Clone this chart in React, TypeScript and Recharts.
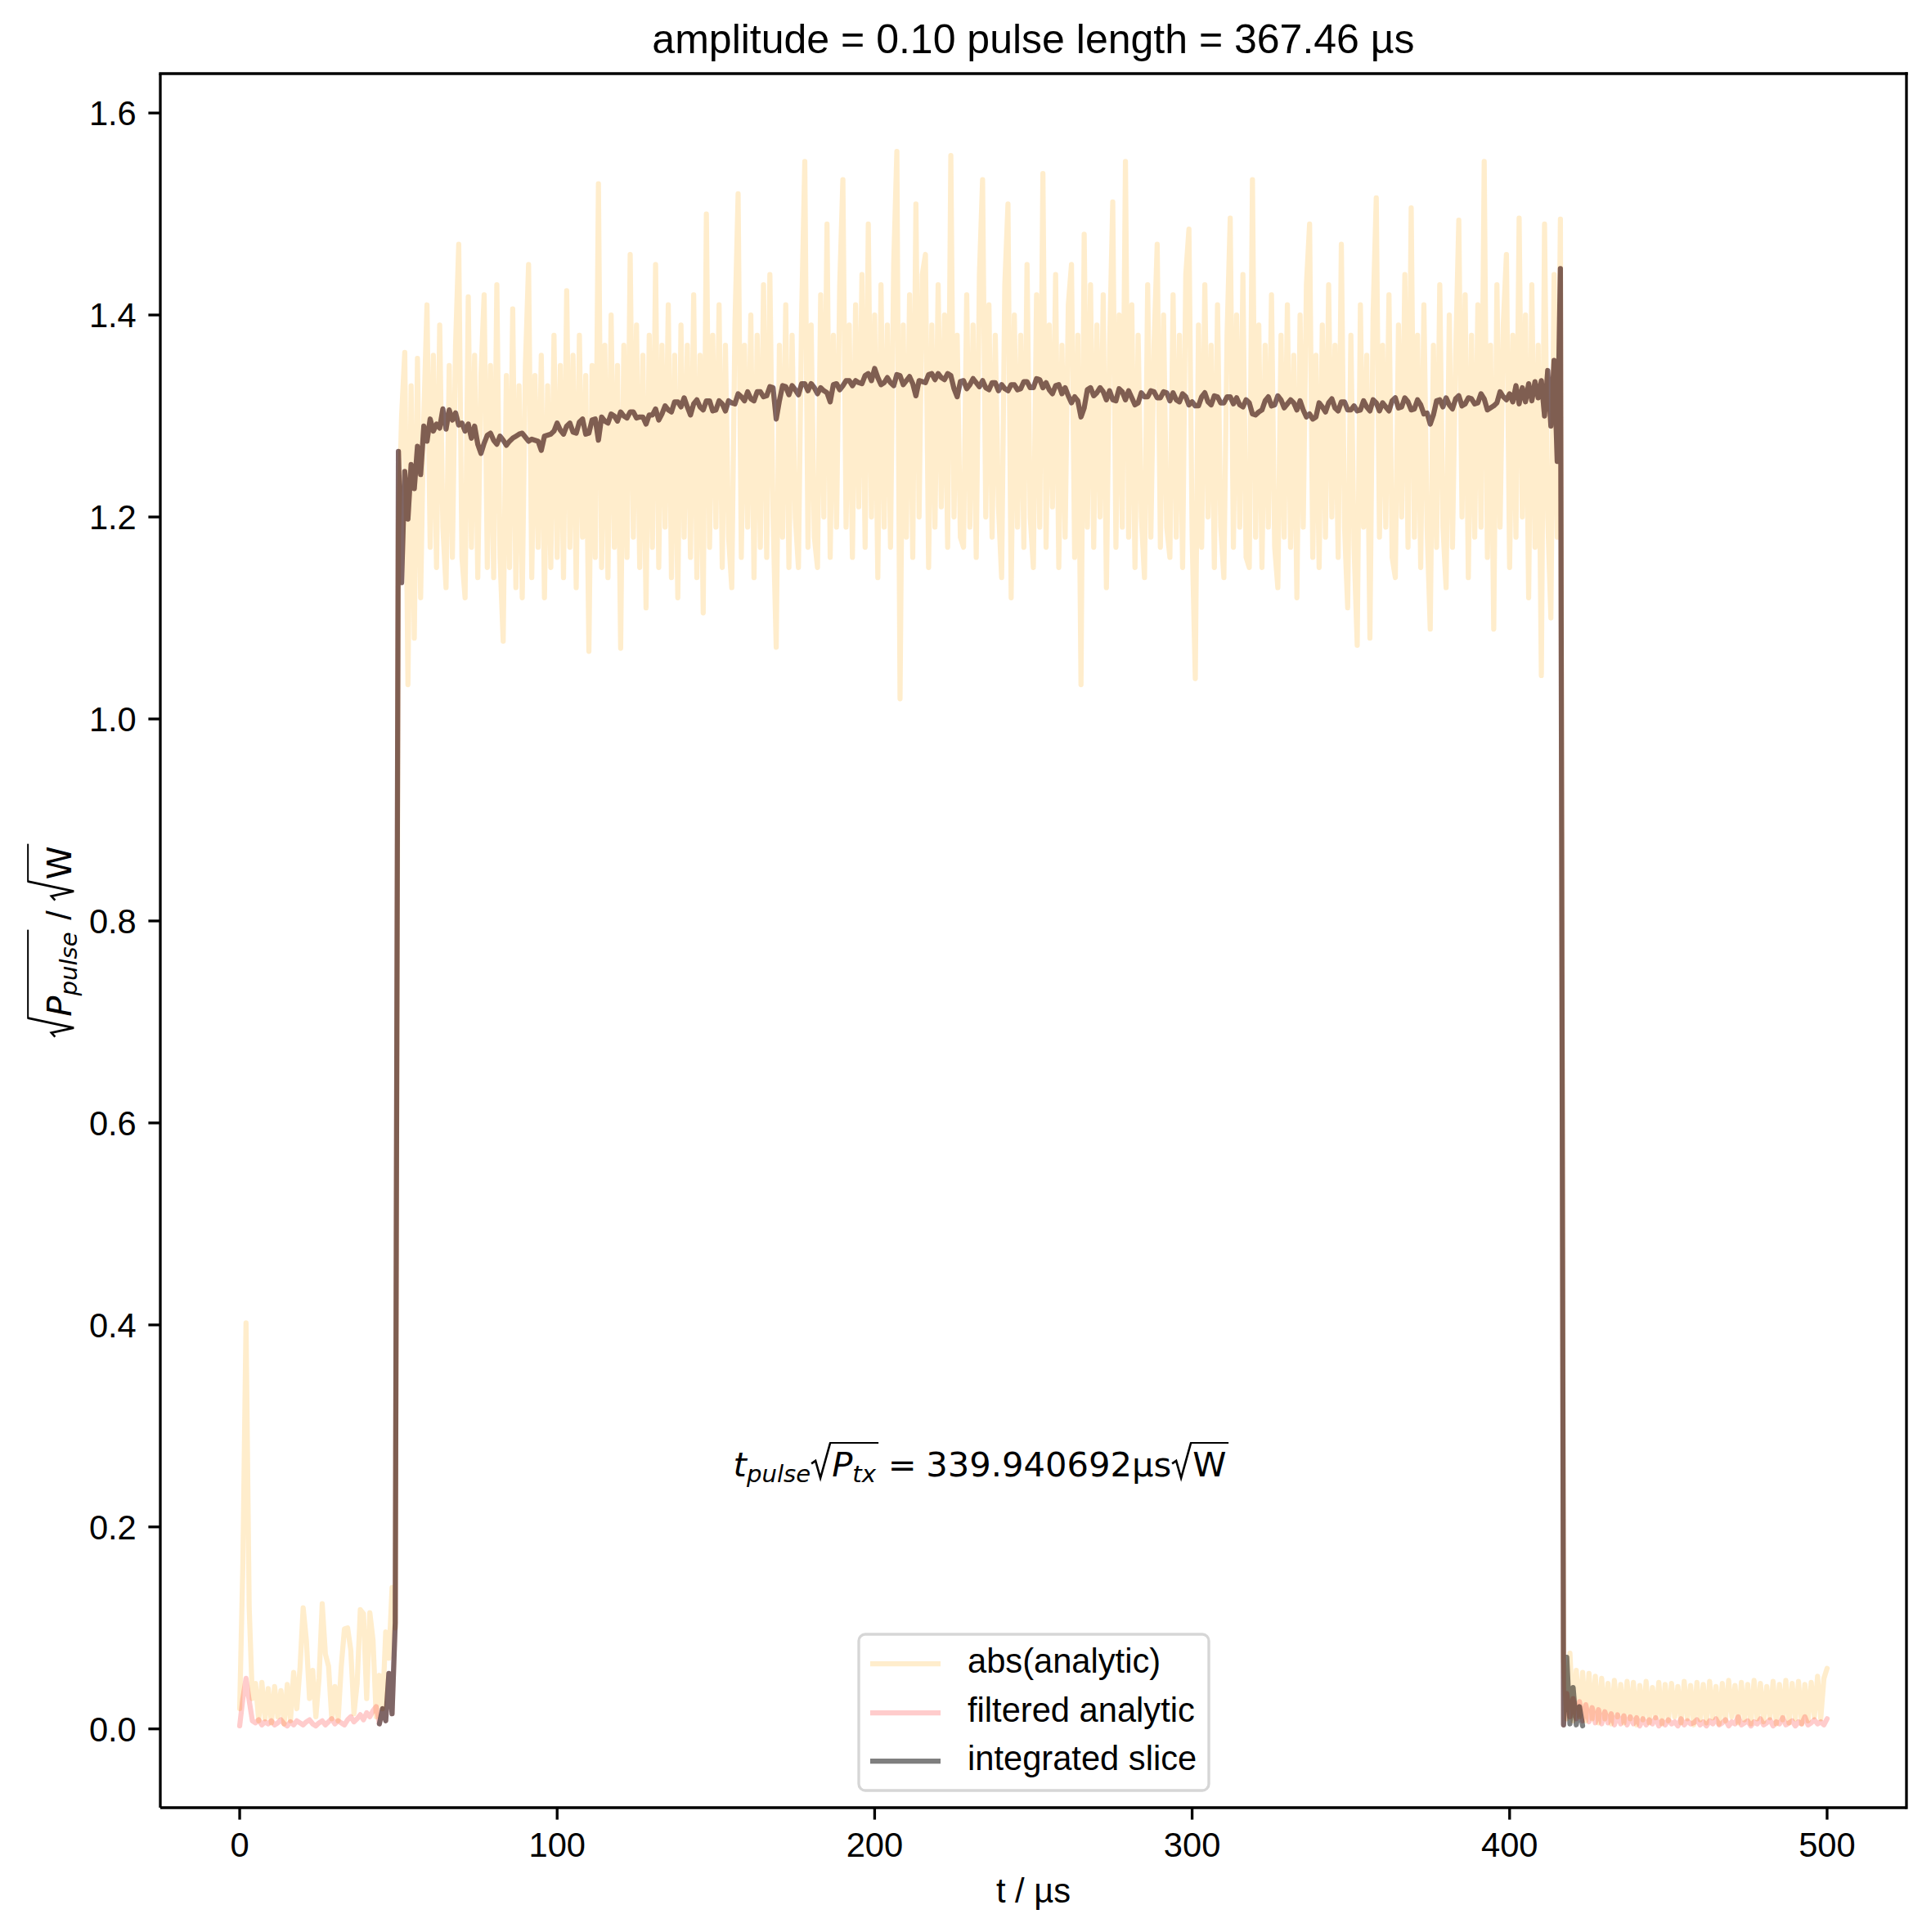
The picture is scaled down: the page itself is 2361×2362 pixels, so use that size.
import React from 'react';
import { LineChart, Line, XAxis, YAxis, ReferenceLine } from 'recharts';

// ---------- data, time grid in µs ----------
const TIME_STEP_US = 1;

// abs(analytic), t = 0 .. 500 µs
const absAnalytic: number[] = [
  // 0-49
  0.020, 0.162, 0.402, 0.120, 0.030, 0.045, 0.008, 0.046, 0.010, 0.040,
  0.006, 0.042, 0.012, 0.038, 0.005, 0.044, 0.008, 0.056, 0.020, 0.060,
  0.120, 0.088, 0.030, 0.058, 0.012, 0.050, 0.124, 0.074, 0.062, 0.010,
  0.042, 0.008, 0.062, 0.099, 0.100, 0.078, 0.015, 0.045, 0.118, 0.114,
  0.030, 0.115, 0.088, 0.012, 0.053, 0.020, 0.096, 0.070, 0.140, 0.100,
  // 50-99
  1.18, 1.30, 1.363, 1.034, 1.33, 1.08, 1.357, 1.12, 1.30, 1.41,
  1.17, 1.36, 1.15, 1.39, 1.19, 1.13, 1.35, 1.16, 1.37, 1.47,
  1.16, 1.12, 1.418, 1.17, 1.36, 1.14, 1.34, 1.42, 1.15, 1.35,
  1.14, 1.43, 1.16, 1.077, 1.34, 1.15, 1.406, 1.13, 1.33, 1.12,
  1.35, 1.45, 1.14, 1.34, 1.17, 1.36, 1.12, 1.33, 1.15, 1.38,
  // 100-149
  1.16, 1.35, 1.14, 1.424, 1.17, 1.36, 1.13, 1.38, 1.18, 1.34,
  1.067, 1.35, 1.16, 1.53, 1.15, 1.37, 1.14, 1.40, 1.17, 1.35,
  1.07, 1.37, 1.16, 1.46, 1.18, 1.39, 1.15, 1.36, 1.11, 1.38,
  1.17, 1.45, 1.15, 1.37, 1.19, 1.41, 1.14, 1.36, 1.12, 1.39,
  1.18, 1.37, 1.16, 1.42, 1.14, 1.36, 1.105, 1.50, 1.17, 1.38,
  // 150-199
  1.19, 1.41, 1.15, 1.37, 1.18, 1.13, 1.39, 1.52, 1.16, 1.37,
  1.19, 1.40, 1.14, 1.38, 1.17, 1.43, 1.16, 1.44, 1.20, 1.071,
  1.37, 1.18, 1.41, 1.15, 1.38, 1.20, 1.15, 1.40, 1.552, 1.17,
  1.39, 1.18, 1.15, 1.42, 1.20, 1.49, 1.16, 1.38, 1.19, 1.43,
  1.534, 1.19, 1.39, 1.16, 1.41, 1.21, 1.44, 1.17, 1.49, 1.20,
  // 200-249
  1.40, 1.14, 1.43, 1.19, 1.39, 1.17, 1.45, 1.562, 1.02, 1.39,
  1.18, 1.42, 1.16, 1.51, 1.20, 1.44, 1.46, 1.15, 1.39, 1.19,
  1.43, 1.21, 1.40, 1.17, 1.558, 1.20, 1.38, 1.18, 1.17, 1.42,
  1.19, 1.39, 1.16, 1.44, 1.534, 1.20, 1.41, 1.18, 1.38, 1.21,
  1.14, 1.43, 1.51, 1.12, 1.40, 1.19, 1.38, 1.17, 1.45, 1.20,
  // 250-299
  1.15, 1.42, 1.19, 1.54, 1.17, 1.39, 1.21, 1.44, 1.15, 1.37,
  1.18, 1.41, 1.45, 1.16, 1.38, 1.034, 1.48, 1.19, 1.43, 1.17,
  1.39, 1.20, 1.42, 1.13, 1.37, 1.512, 1.17, 1.40, 1.19, 1.552,
  1.18, 1.41, 1.15, 1.38, 1.20, 1.14, 1.43, 1.18, 1.37, 1.47,
  1.17, 1.40, 1.19, 1.16, 1.42, 1.18, 1.38, 1.15, 1.44, 1.485,
  // 300-349
  1.18, 1.04, 1.39, 1.17, 1.43, 1.20, 1.37, 1.15, 1.41, 1.19,
  1.14, 1.38, 1.496, 1.17, 1.40, 1.19, 1.44, 1.16, 1.15, 1.534,
  1.18, 1.39, 1.15, 1.37, 1.19, 1.42, 1.17, 1.13, 1.38, 1.18,
  1.41, 1.17, 1.36, 1.12, 1.40, 1.19, 1.43, 1.49, 1.16, 1.36,
  1.15, 1.39, 1.18, 1.43, 1.20, 1.37, 1.16, 1.47, 1.19, 1.11,
  // 350-399
  1.38, 1.17, 1.073, 1.41, 1.19, 1.36, 1.08, 1.40, 1.516, 1.18,
  1.37, 1.19, 1.42, 1.16, 1.14, 1.39, 1.20, 1.44, 1.17, 1.506,
  1.18, 1.38, 1.15, 1.41, 1.19, 1.089, 1.37, 1.17, 1.43, 1.19,
  1.13, 1.40, 1.17, 1.36, 1.494, 1.20, 1.42, 1.14, 1.38, 1.18,
  1.41, 1.19, 1.552, 1.16, 1.37, 1.089, 1.43, 1.19, 1.39, 1.46,
  // 400-417
  1.15, 1.38, 1.18, 1.496, 1.20, 1.40, 1.12, 1.43, 1.17, 1.37,
  1.043, 1.49, 1.20, 1.10, 1.44, 1.18, 1.495, 0.070,
  // 418-500
  0.010, 0.075, 0.008, 0.058, 0.012, 0.056, 0.008, 0.055, 0.010, 0.052,
  0.006, 0.050, 0.010, 0.045, 0.005, 0.048, 0.012, 0.044, 0.006, 0.047,
  0.010, 0.046, 0.004, 0.043, 0.009, 0.047, 0.006, 0.041, 0.011, 0.046,
  0.005, 0.044, 0.008, 0.045, 0.012, 0.042, 0.006, 0.047, 0.010, 0.043,
  0.004, 0.046, 0.009, 0.044, 0.006, 0.047, 0.011, 0.042, 0.005, 0.045,
  0.008, 0.048, 0.012, 0.043, 0.006, 0.046, 0.009, 0.044, 0.005, 0.048,
  0.010, 0.045, 0.007, 0.042, 0.011, 0.047, 0.005, 0.044, 0.009, 0.048,
  0.006, 0.045, 0.010, 0.047, 0.005, 0.044, 0.008, 0.046, 0.012, 0.052,
  0.010, 0.050, 0.060,
];

// integrated slice, t = 44 .. 423 µs
const integratedStartUs = 44;
const integratedSlice: number[] = [
  // 44-49
  0.005, 0.020, 0.008, 0.055, 0.015, 0.105,
  // 50-99
  1.265, 1.135, 1.245, 1.198, 1.252, 1.228, 1.270, 1.242, 1.290, 1.275,
  1.297, 1.285, 1.292, 1.288, 1.307, 1.287, 1.306, 1.296, 1.303, 1.291,
  1.293, 1.285, 1.292, 1.278, 1.290, 1.272, 1.263, 1.273, 1.281, 1.283,
  1.276, 1.272, 1.280, 1.276, 1.271, 1.275, 1.278, 1.280, 1.282, 1.283,
  1.279, 1.275, 1.277, 1.276, 1.275, 1.266, 1.280, 1.281, 1.282, 1.285,
  // 100-149
  1.293, 1.286, 1.282, 1.290, 1.293, 1.284, 1.283, 1.294, 1.297, 1.282,
  1.283, 1.296, 1.297, 1.276, 1.299, 1.295, 1.293, 1.302, 1.300, 1.295,
  1.304, 1.300, 1.298, 1.304, 1.304, 1.298, 1.299, 1.299, 1.292, 1.301,
  1.301, 1.307, 1.296, 1.302, 1.310, 1.306, 1.304, 1.314, 1.314, 1.309,
  1.318, 1.309, 1.301, 1.312, 1.316, 1.309, 1.306, 1.315, 1.315, 1.305,
  // 150-199
  1.306, 1.315, 1.312, 1.305, 1.315, 1.313, 1.312, 1.322, 1.319, 1.315,
  1.324, 1.317, 1.315, 1.324, 1.324, 1.319, 1.320, 1.329, 1.328, 1.297,
  1.315, 1.330, 1.329, 1.321, 1.330, 1.326, 1.321, 1.332, 1.332, 1.325,
  1.332, 1.328, 1.322, 1.328, 1.325, 1.323, 1.314, 1.331, 1.332, 1.326,
  1.330, 1.335, 1.335, 1.330, 1.335, 1.333, 1.332, 1.340, 1.342, 1.335,
  // 200-249
  1.347, 1.338, 1.331, 1.333, 1.338, 1.333, 1.330, 1.341, 1.340, 1.331,
  1.335, 1.339, 1.332, 1.320, 1.335, 1.334, 1.333, 1.341, 1.342, 1.336,
  1.342, 1.338, 1.336, 1.342, 1.340, 1.327, 1.319, 1.334, 1.335, 1.327,
  1.331, 1.337, 1.333, 1.329, 1.335, 1.328, 1.326, 1.333, 1.333, 1.325,
  1.331, 1.327, 1.325, 1.331, 1.331, 1.326, 1.327, 1.334, 1.334, 1.328,
  // 250-299
  1.328, 1.337, 1.336, 1.328, 1.333, 1.326, 1.322, 1.330, 1.331, 1.322,
  1.328, 1.320, 1.313, 1.319, 1.315, 1.299, 1.308, 1.326, 1.328, 1.320,
  1.323, 1.328, 1.324, 1.316, 1.325, 1.316, 1.315, 1.327, 1.324, 1.316,
  1.325, 1.318, 1.311, 1.313, 1.323, 1.319, 1.319, 1.325, 1.324, 1.318,
  1.318, 1.324, 1.323, 1.315, 1.323, 1.316, 1.314, 1.322, 1.319, 1.311,
  // 300-349
  1.314, 1.310, 1.310, 1.319, 1.323, 1.314, 1.311, 1.320, 1.319, 1.313,
  1.313, 1.319, 1.319, 1.312, 1.318, 1.311, 1.309, 1.316, 1.313, 1.302,
  1.301, 1.304, 1.306, 1.315, 1.319, 1.310, 1.311, 1.320, 1.316, 1.308,
  1.312, 1.316, 1.313, 1.306, 1.315, 1.306, 1.299, 1.302, 1.297, 1.299,
  1.313, 1.309, 1.304, 1.313, 1.317, 1.308, 1.305, 1.314, 1.314, 1.306,
  // 350-399
  1.306, 1.310, 1.305, 1.306, 1.315, 1.309, 1.305, 1.316, 1.313, 1.305,
  1.313, 1.309, 1.305, 1.315, 1.318, 1.308, 1.309, 1.318, 1.314, 1.306,
  1.307, 1.316, 1.311, 1.302, 1.303, 1.292, 1.301, 1.315, 1.316, 1.309,
  1.318, 1.311, 1.307, 1.317, 1.320, 1.310, 1.312, 1.318, 1.317, 1.312,
  1.313, 1.322, 1.317, 1.306, 1.308, 1.310, 1.313, 1.324, 1.319, 1.316,
  // 400-417
  1.322, 1.314, 1.330, 1.312, 1.328, 1.314, 1.332, 1.315, 1.334, 1.318,
  1.335, 1.300, 1.345, 1.290, 1.355, 1.255, 1.446, 0.004,
  // 418-423
  0.071, 0.005, 0.041, 0.004, 0.022, 0.003,
];

// filtered analytic outside the pulse (inside it follows the integrated slice)
const filteredBefore: number[] = [
  // 0-43
  0.003, 0.030, 0.050, 0.028, 0.008, 0.006, 0.009, 0.004, 0.007, 0.005,
  0.008, 0.004, 0.006, 0.009, 0.005, 0.003, 0.007, 0.004, 0.008, 0.006,
  0.004, 0.007, 0.009, 0.005, 0.003, 0.006, 0.008, 0.004, 0.007, 0.010,
  0.005, 0.008, 0.006, 0.004, 0.009, 0.012, 0.007, 0.010, 0.014, 0.009,
  0.016, 0.012, 0.018, 0.022,
];
const filteredAfterStartUs = 418;
const filteredAfter: number[] = [
  // 418-500
  0.035, 0.012, 0.030, 0.010, 0.027, 0.008, 0.024, 0.007, 0.021, 0.006,
  0.019, 0.005, 0.017, 0.006, 0.015, 0.004, 0.014, 0.005, 0.013, 0.004,
  0.012, 0.005, 0.011, 0.003, 0.010, 0.004, 0.009, 0.005, 0.011, 0.003,
  0.008, 0.004, 0.009, 0.005, 0.007, 0.003, 0.010, 0.004, 0.008, 0.005,
  0.006, 0.009, 0.004, 0.007, 0.003, 0.008, 0.005, 0.010, 0.004, 0.006,
  0.009, 0.003, 0.007, 0.005, 0.012, 0.004, 0.006, 0.008, 0.003, 0.007,
  0.005, 0.010, 0.004, 0.006, 0.009, 0.003, 0.007, 0.005, 0.011, 0.004,
  0.006, 0.008, 0.003, 0.007, 0.005, 0.012, 0.004, 0.006, 0.009, 0.005,
  0.007, 0.004, 0.010,
];

const xTicks = [0, 100, 200, 300, 400, 500];
const yTicks = [0, 0.2, 0.4, 0.6, 0.8, 1.0, 1.2, 1.4, 1.6];
const xDomain: [number, number] = [-25, 525];
const yDomain: [number, number] = [-0.078, 1.639];

const titleText = 'amplitude = 0.10 pulse length = 367.46 µs';
const xLabelText = 't / µs';
const legendLabels = ['abs(analytic)', 'filtered analytic', 'integrated slice'];

// ---------- series built from the arrays ----------
const toSeries = (startUs: number, values: number[]) =>
  values.map((v, i) => ({ t: startUs + i * TIME_STEP_US, v }));

const absData = toSeries(0, absAnalytic);
const integData = toSeries(integratedStartUs, integratedSlice);
const filteredData = toSeries(0, [
  ...filteredBefore,
  ...integratedSlice.slice(0, filteredAfterStartUs - integratedStartUs),
  ...filteredAfter,
]);

// ---------- styles ----------
const W = 2361;
const H = 2362;
const SANS = "'Liberation Sans', Arial, sans-serif";
const MATH = "'DejaVu Sans', sans-serif";
const FS = 41.67;
const TICK = 14.6;
const LW = 6.25;
const SPINE = 3.33;

const SERIES = [
  { color: '#ffa500', opacity: 0.2 },
  { color: '#ff0000', opacity: 0.2 },
  { color: '#000000', opacity: 0.5 },
];

const renderXTick = (props: any) => {
  const { x, y, payload } = props;
  return (
    <text x={x} y={y + 45.6} textAnchor="middle" fontFamily={SANS} fontSize={FS} fill="#000">
      {payload.value}
    </text>
  );
};

const renderYTick = (props: any) => {
  const { x, y, payload } = props;
  return (
    <text x={x - 14.6} y={y + 15} textAnchor="end" fontFamily={SANS} fontSize={FS} fill="#000">
      {Number(payload.value).toFixed(1)}
    </text>
  );
};

const Sub = ({ children }: { children: React.ReactNode }) => (
  <span style={{ fontSize: '70%', fontStyle: 'italic', position: 'relative', top: 7 }}>{children}</span>
);

const Radical = ({ children, rise, depth }: { children: React.ReactNode; rise: number; depth: number }) => {
  const base = 35.3; // baseline offset from top of a line-height:1 DejaVu box
  const rw = 24;
  const h = rise + depth;
  return (
    <span
      style={{
        position: 'relative',
        display: 'inline-block',
        paddingLeft: rw + 2,
        paddingRight: 3,
        fontFamily: MATH,
        fontSize: FS,
        lineHeight: 1,
      }}
    >
      <svg
        width={rw}
        height={h}
        style={{ position: 'absolute', left: 0, top: base - rise, overflow: 'visible' }}
      >
        <path
          d={`M 1 ${h * 0.6} L 6 ${h * 0.52} L 12 ${h} L ${rw} 1`}
          fill="none"
          stroke="#000"
          strokeWidth={2.6}
          strokeLinejoin="miter"
        />
      </svg>
      <span
        style={{
          position: 'absolute',
          left: rw - 1,
          right: 0,
          top: base - rise - 0.3,
          borderTop: '2.6px solid #000',
        }}
      />
      {children}
    </span>
  );
};

export default function App() {
  const legendRows = [2034, 2094, 2153];
  return (
    <div style={{ position: 'absolute', left: 0, top: 0, width: W, height: H, background: '#fff' }}>
      <LineChart width={W} height={H} margin={{ top: 90, right: 30, bottom: 0, left: 0 }}>
        <XAxis
          dataKey="t"
          type="number"
          domain={xDomain}
          ticks={xTicks}
          interval={0}
          allowDataOverflow
          height={152}
          tickSize={TICK}
          tickMargin={0}
          axisLine={{ stroke: '#000', strokeWidth: SPINE }}
          tickLine={{ stroke: '#000', strokeWidth: SPINE }}
          tick={renderXTick}
        />
        <YAxis
          type="number"
          domain={yDomain}
          ticks={yTicks}
          interval={0}
          allowDataOverflow
          width={196}
          tickSize={TICK}
          tickMargin={0}
          axisLine={{ stroke: '#000', strokeWidth: SPINE }}
          tickLine={{ stroke: '#000', strokeWidth: SPINE }}
          tick={renderYTick}
        />
        <Line
          data={absData}
          dataKey="v"
          type="linear"
          dot={false}
          activeDot={false}
          stroke={SERIES[0].color}
          strokeOpacity={SERIES[0].opacity}
          strokeWidth={LW}
          strokeLinejoin="round"
          strokeLinecap="round"
          isAnimationActive={false}
          name={legendLabels[0]}
        />
        <Line
          data={filteredData}
          dataKey="v"
          type="linear"
          dot={false}
          activeDot={false}
          stroke={SERIES[1].color}
          strokeOpacity={SERIES[1].opacity}
          strokeWidth={LW}
          strokeLinejoin="round"
          strokeLinecap="round"
          isAnimationActive={false}
          name={legendLabels[1]}
        />
        <Line
          data={integData}
          dataKey="v"
          type="linear"
          dot={false}
          activeDot={false}
          stroke={SERIES[2].color}
          strokeOpacity={SERIES[2].opacity}
          strokeWidth={LW}
          strokeLinejoin="round"
          strokeLinecap="round"
          isAnimationActive={false}
          name={legendLabels[2]}
        />
        {/* top and right spines */}
        <ReferenceLine y={yDomain[1]} stroke="#000" strokeWidth={SPINE} strokeLinecap="square" ifOverflow="visible" />
        <ReferenceLine x={xDomain[1]} stroke="#000" strokeWidth={SPINE} strokeLinecap="square" ifOverflow="visible" />
      </LineChart>

      <svg
        width={W}
        height={H}
        style={{ position: 'absolute', left: 0, top: 0, pointerEvents: 'none' }}
      >
        <text x={1263.5} y={65} textAnchor="middle" fontFamily={SANS} fontSize={50} fill="#000">
          {titleText}
        </text>
        <text x={1263.5} y={2326} textAnchor="middle" fontFamily={SANS} fontSize={FS} fill="#000">
          {xLabelText}
        </text>
        <rect
          x={1050}
          y={1998}
          width={428}
          height={191}
          rx={8}
          fill="#fff"
          fillOpacity={0.8}
          stroke="#cccccc"
          strokeOpacity={0.8}
          strokeWidth={3.33}
        />
        {legendLabels.map((lab, i) => (
          <g key={lab}>
            <line
              x1={1064}
              x2={1150}
              y1={legendRows[i]}
              y2={legendRows[i]}
              stroke={SERIES[i].color}
              strokeOpacity={SERIES[i].opacity}
              strokeWidth={LW}
            />
            <text x={1183} y={legendRows[i] + 11.3} fontFamily={SANS} fontSize={FS} fill="#000">
              {lab}
            </text>
          </g>
        ))}
      </svg>

      {/* y-axis label */}
      <div
        style={{
          position: 'absolute',
          left: 72.5,
          top: 1150,
          transform: 'translate(-50%, -50%) rotate(-90deg)',
          fontFamily: MATH,
          fontSize: FS,
          lineHeight: 1,
          whiteSpace: 'nowrap',
          color: '#000',
        }}
      >
        <Radical rise={54} depth={3}>
          <i>P</i>
          <Sub>pulse</Sub>
        </Radical>
        <span style={{ fontFamily: SANS }}>{' / '}</span>
        <Radical rise={54} depth={3}>
          <span>W</span>
        </Radical>
      </div>

      {/* annotation */}
      <div
        style={{
          position: 'absolute',
          left: 1199.5,
          top: 1805 - 35.3,
          transform: 'translateX(-50%)',
          fontFamily: MATH,
          fontSize: FS,
          lineHeight: 1,
          whiteSpace: 'nowrap',
          color: '#000',
        }}
      >
        <i>t</i>
        <Sub>pulse</Sub>
        <Radical rise={42} depth={2}>
          <i>P</i>
          <Sub>tx</Sub>
        </Radical>
        <span style={{ margin: '0 0.28em' }}>=</span>
        <span>339.940692µs</span>
        <Radical rise={42} depth={2}>
          <span>W</span>
        </Radical>
      </div>
    </div>
  );
}
